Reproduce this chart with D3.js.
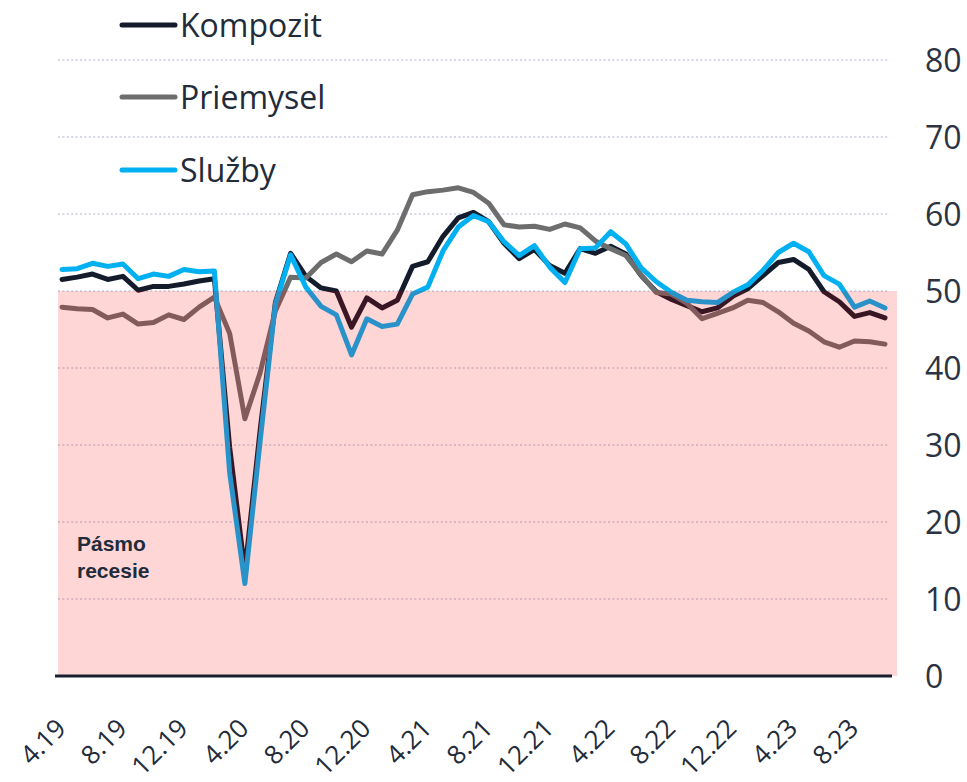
<!DOCTYPE html>
<html>
<head>
<meta charset="utf-8">
<script src="https://cdn.jsdelivr.net/npm/d3@7"></script>
<style>
  body { margin: 0; background: #fff; }
  svg { display: block; }
</style>
</head>
<body>
<div id="chart"></div>
<script>
// months 4.19 .. 10.23
const MONTHS = [];
for (let y = 19; y <= 23; y++) {
    for (let m = 1; m <= 12; m++) {
        if (y === 19 && m < 4) continue;
        if (y === 23 && m > 10) continue;
        MONTHS.push(m + "." + y);
    }
}
const TICK_LABELS = ["4.19", "8.19", "12.19", "4.20", "8.20", "12.20", "4.21", "8.21",
    "12.21", "4.22", "8.22", "12.22", "4.23", "8.23"];
const Y_TICKS = [0, 10, 20, 30, 40, 50, 60, 70, 80];

const kompozit = [51.5, 51.8, 52.2, 51.5, 51.9, 50.1, 50.6, 50.6, 50.9,
    51.3, 51.6, 29.7, 13.6, 31.9, 48.5, 54.9, 51.9, 50.4, 50.0, 45.3, 49.1,
    47.8, 48.8, 53.2, 53.8, 57.1, 59.5, 60.2, 59.0, 56.2, 54.2, 55.4, 53.3,
    52.3, 55.5, 54.9, 55.8, 54.8, 52.0, 49.9, 48.9, 48.1, 47.3, 47.8, 49.3,
    50.3, 52.0, 53.7, 54.1, 52.8, 49.9, 48.6, 46.7, 47.2, 46.5];

const priemysel = [47.9, 47.7, 47.6, 46.5, 47.0, 45.7, 45.9, 46.9, 46.3,
    47.9, 49.2, 44.5, 33.4, 39.4, 47.4, 51.8, 51.7, 53.7, 54.8, 53.8, 55.2,
    54.8, 57.9, 62.5, 62.9, 63.1, 63.4, 62.8, 61.4, 58.6, 58.3, 58.4, 58.0,
    58.7, 58.2, 56.5, 55.5, 54.6, 52.1, 49.8, 49.6, 48.4, 46.4, 47.1, 47.8,
    48.8, 48.5, 47.3, 45.8, 44.8, 43.4, 42.7, 43.5, 43.4, 43.1];

const sluzby = [52.8, 52.9, 53.6, 53.2, 53.5, 51.6, 52.2, 51.9, 52.8,
    52.5, 52.6, 26.4, 12.0, 30.5, 48.3, 54.7, 50.5, 48.0, 46.9, 41.7, 46.4,
    45.4, 45.7, 49.6, 50.5, 55.2, 58.3, 59.8, 59.0, 56.4, 54.6, 55.9, 53.1,
    51.1, 55.5, 55.6, 57.7, 56.1, 53.0, 51.2, 49.8, 48.8, 48.6, 48.5, 49.8,
    50.8, 52.7, 55.0, 56.2, 55.1, 52.0, 50.9, 47.9, 48.7, 47.8];

const SERIES = [
    { name: "Kompozit", values: kompozit, color: "#141b2b" },
    { name: "Priemysel", values: priemysel, color: "#6d6d6d" },
    { name: "Služby", values: sluzby, color: "#00b0f0" }
];

const W = 967, H = 782;
const textColor = "#222b3a";

const svg = d3.select("#chart").append("svg")
    .attr("width", W)
    .attr("height", H);

const x = d3.scalePoint().domain(MONTHS).range([62, 885]);
const y = d3.scaleLinear().domain([0, 80]).range([676, 60]);

// dotted gridlines
svg.append("g")
    .selectAll("line")
    .data(Y_TICKS.filter(d => d > 0))
    .enter()
    .append("line")
    .attr("x1", 58)
    .attr("x2", 889)
    .attr("y1", d => y(d))
    .attr("y2", d => y(d))
    .attr("stroke", "#c7cde0")
    .attr("stroke-width", 1.6)
    .attr("stroke-dasharray", "2,2.4");

// lines
const line = d3.line()
    .x((d, i) => x(MONTHS[i]))
    .y(d => y(d));

svg.append("g")
    .selectAll("path")
    .data(SERIES)
    .enter()
    .append("path")
    .attr("d", d => line(d.values))
    .attr("fill", "none")
    .attr("stroke", d => d.color)
    .attr("stroke-width", 5)
    .attr("stroke-linejoin", "round")
    .attr("stroke-linecap", "round");

// recession band overlay (below 50)
svg.append("rect")
    .attr("x", 58)
    .attr("y", y(50))
    .attr("width", 897 - 58)
    .attr("height", y(0) - y(50))
    .attr("fill", "rgba(255,0,0,0.16)");

// baseline
svg.append("line")
    .attr("x1", 55)
    .attr("x2", 892)
    .attr("y1", y(0))
    .attr("y2", y(0))
    .attr("stroke", "#1a2030")
    .attr("stroke-width", 3);

// band label
const band = svg.append("text")
    .attr("font-family", "'Liberation Sans Narrow', 'Arial Narrow', 'Liberation Sans', sans-serif")
    .attr("font-weight", "bold")
    .attr("font-size", 21)
    .attr("fill", textColor);
band.append("tspan").attr("x", 77).attr("y", 551).text("Pásmo");
band.append("tspan").attr("x", 77).attr("y", 578).text("recesie");

// right axis
const yAxis = svg.append("g")
    .attr("transform", "translate(925,0)")
    .call(d3.axisRight(y).tickValues(Y_TICKS).tickSize(0).tickPadding(0));
yAxis.select(".domain").remove();
yAxis.selectAll("text")
    .attr("font-family", "'Open Sans', sans-serif")
    .attr("font-size", 32)
    .attr("fill", "#2b3342")
    .attr("dy", "0.36em");

// bottom axis labels
const xAxis = svg.append("g")
    .attr("transform", `translate(0,${y(0)})`)
    .call(d3.axisBottom(x).tickValues(TICK_LABELS).tickSize(0));
xAxis.select(".domain").remove();
xAxis.selectAll("text")
    .attr("font-family", "'Open Sans', sans-serif")
    .attr("font-size", 26)
    .attr("fill", textColor)
    .attr("text-anchor", "end")
    .attr("x", 0)
    .attr("y", 0)
    .attr("dy", 0)
    .attr("transform", "translate(5,54) rotate(-45)");

// legend
const legendY = [25, 97, 170];
const legend = svg.append("g")
    .selectAll("g")
    .data(SERIES)
    .enter()
    .append("g")
    .attr("transform", (d, i) => `translate(0,${legendY[i]})`);

legend.append("rect")
    .attr("x", 107)
    .attr("y", -10)
    .attr("width", 225)
    .attr("height", 24)
    .attr("fill", "#fff");

legend.append("line")
    .attr("x1", 122)
    .attr("x2", 175)
    .attr("stroke", d => d.color)
    .attr("stroke-width", 5)
    .attr("stroke-linecap", "round");

legend.append("text")
    .attr("x", 180)
    .attr("y", 12)
    .attr("font-family", "'Open Sans', sans-serif")
    .attr("font-size", 32)
    .attr("fill", textColor)
    .text(d => d.name);
</script>
</body>
</html>
